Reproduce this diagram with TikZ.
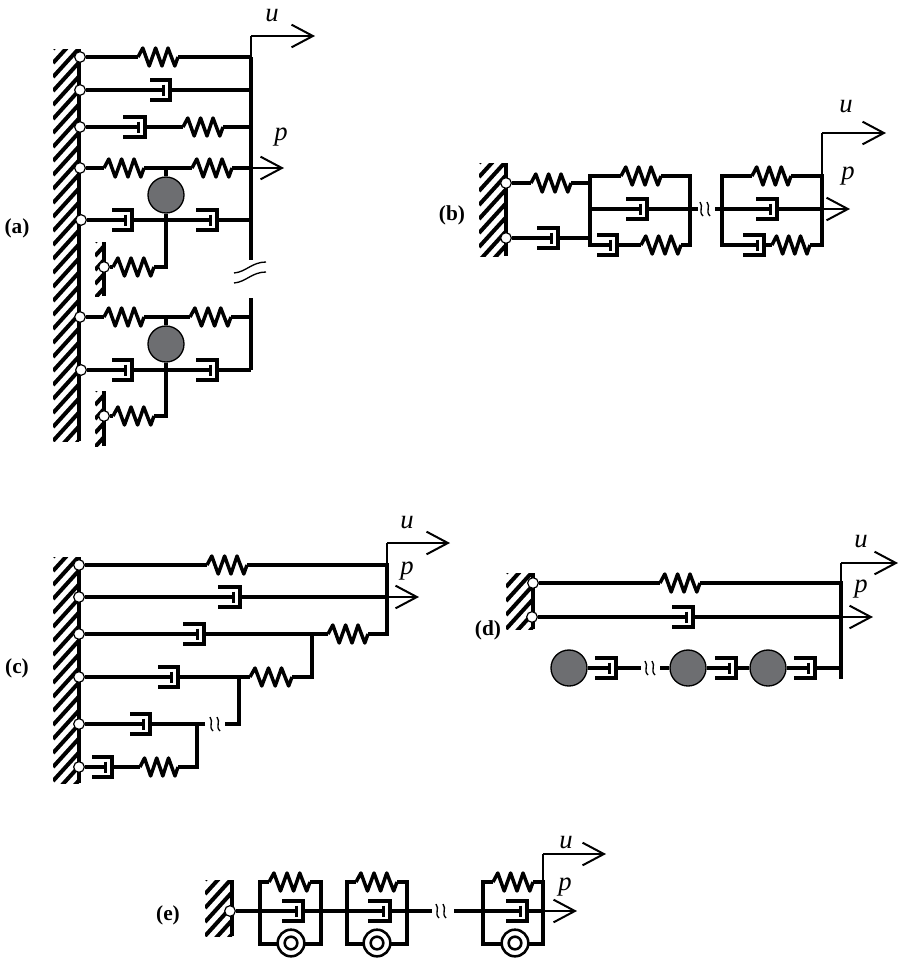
\documentclass[tikz,border=0pt]{standalone}
\usepackage{fontspec}
\setmainfont{Liberation Serif}
\usetikzlibrary{arrows.meta,calc}
\definecolor{massgray}{HTML}{6D6E71}
\tikzset{
  wire/.style={line width=2.3pt,line cap=butt,line join=miter},
  thinwire/.style={line width=1.25pt},
  force/.style={line width=1.25pt,-{Straight Barb[length=16pt,width=17pt,line width=1.5pt]}},
  pivot/.style={circle,draw=black,line width=.9pt,fill=white,inner sep=0pt,minimum size=8pt},
  mass/.style={circle,draw=black,line width=1pt,fill=massgray,inner sep=0pt,minimum size=27pt},
  roller/.style={circle,draw=black,line width=1.9pt,fill=white,inner sep=0pt,minimum size=20pt},
  rollerin/.style={circle,draw=black,line width=1.9pt,fill=white,inner sep=0pt,minimum size=9.5pt},
  sym/.style={font=\fontsize{20}{22}\selectfont\itshape,inner sep=0pt},
  tag/.style={font=\fontsize{16}{18}\selectfont\bfseries,inner sep=0pt},
  breakline/.style={line width=1pt}
}
% spring: name, left x, right x, y
\newcommand{\spr}[4]{%
  \pgfmathsetmacro{\sprw}{#3-#2}%
  \coordinate (#1-l) at (#2,#4);\coordinate (#1-r) at (#3,#4);
  \draw[wire,line width=2.6pt,line join=round] (#2,#4) -- ({#2+.12*\sprw},{#4-9}) -- ({#2+.28*\sprw},{#4+9}) -- ({#2+.44*\sprw},{#4-9})
    -- ({#2+.60*\sprw},{#4+9}) -- ({#2+.75*\sprw},{#4-9}) -- ({#2+.92*\sprw},{#4+9}) -- (#3,#4);
}
% dashpot: name, left x, right x, y
\newcommand{\dpot}[4]{%
  \coordinate (#1-l) at (#2,#4);\coordinate (#1-r) at (#3,#4);
  \draw[wire,line width=2.9pt] (#2,{#4-10}) -- (#3,{#4-10}) -- (#3,{#4+10}) -- (#2,{#4+10});
  \draw[wire] (#2,#4) -- ({#3-6.5},#4);
  \draw[wire] ({#3-6.5},{#4-5.5}) -- ({#3-6.5},{#4+5.5});
}
% wall: x1,x2,y1,y2
\newcommand{\hatchwall}[4]{%
  \begin{scope}
    \clip (#1,#3) rectangle (#2,#4);
    \foreach \hk in {0,...,40}
      \draw[line width=3pt] (#1,{#3+\hk*14}) -- (#2,{#3+\hk*14-(#2-#1)*1.1});
  \end{scope}
  \draw[wire] (#2,#3) -- (#2,#4);
}
% small vertical break: x,y
\newcommand{\vbrk}[2]{%
  \foreach \bo in {0,7}
    \draw[breakline] ({#1+\bo},{#2-7}) .. controls ({#1+\bo+4},{#2-2}) and ({#1+\bo-2},{#2+2}) .. ({#1+\bo+3},{#2+7});
}
\begin{document}
\begin{tikzpicture}[x=.75pt,y=-.75pt]
\useasboundingbox (0,0) rectangle (899,961);

%%% (a)
\hatchwall{53}{79}{49}{441}
\hatchwall{95}{104}{242}{296}
\hatchwall{95}{104}{391}{446}
\node[tag] (la) at (17,228) {(a)};
\coordinate (aRa) at (251,57);\coordinate (aRb) at (251,90);\coordinate (aRc) at (251,127);
\coordinate (aRd) at (251,168);\coordinate (aRe) at (251,220);\coordinate (aRf) at (251,260);
\coordinate (aRg) at (251,298);\coordinate (aRh) at (251,317);\coordinate (aRi) at (251,370);
\coordinate (aT) at (251,36);\coordinate (aUtip) at (315,36);\coordinate (aPtip) at (284,168);
\coordinate (aJu) at (166,168);\coordinate (aJm) at (166,220);\coordinate (aJb) at (166,267);
\coordinate (aKu) at (166,317);\coordinate (aKm) at (166,370);\coordinate (aKb) at (166,416);
\spr{as1}{138}{178}{57}
\dpot{ad2}{150}{170}{90}
\dpot{ad3}{123}{145}{127}
\spr{as3}{183}{223}{127}
\spr{as4}{104}{144}{168}
\spr{as5}{192}{232}{168}
\dpot{ad5}{112}{132}{220}
\dpot{ad6}{196}{217}{220}
\spr{as7}{113}{154}{267}
\spr{as8}{104}{144}{317}
\spr{as9}{190}{231}{317}
\dpot{ad9}{112}{132}{370}
\dpot{ad10}{196}{217}{370}
\spr{as11}{113}{154}{416}
\node[mass] (am1) at (166,195) {};
\node[mass] (am2) at (166,344) {};
\node[pivot] (ap1) at (80,57) {};\node[pivot] (ap2) at (80,90) {};\node[pivot] (ap3) at (80,127) {};
\node[pivot] (ap4) at (80,168) {};\node[pivot] (ap5) at (81,220) {};\node[pivot] (ap6) at (104,267) {};
\node[pivot] (ap7) at (80,317) {};\node[pivot] (ap8) at (81,370) {};\node[pivot] (ap9) at (104,416) {};
\draw[wire] (ap1) -- (as1-l) (as1-r) -- (aRa);
\draw[wire] (ap2) -- (ad2-l) (ad2-r) -- (aRb);
\draw[wire] (ap3) -- (ad3-l) (ad3-r) -- (as3-l) (as3-r) -- (aRc);
\draw[wire] (ap4) -- (as4-l) (as4-r) -- (as5-l) (as5-r) -- (aRd);
\draw[wire] (ap5) -- (ad5-l) (ad5-r) -- (ad6-l) (ad6-r) -- (aRe);
\draw[wire] (ap6) -- (as7-l) (as7-r) -- (aJb) -- (aJm);
\draw[wire] (aJu) -- (am1) (am1) -- (aJm);
\draw[wire] (ap7) -- (as8-l) (as8-r) -- (as9-l) (as9-r) -- (aRh);
\draw[wire] (ap8) -- (ad9-l) (ad9-r) -- (ad10-l) (ad10-r) -- (aRi);
\draw[wire] (ap9) -- (as11-l) (as11-r) -- (aKb) -- (aKm);
\draw[wire] (aKu) -- (am2) (am2) -- (aKm);
\draw[wire] (aRa) -- (aRf) (aRg) -- (aRi);
\draw[thinwire] (aRa) -- (aT);
\draw[force] (aT) -- (aUtip);
\draw[force] (aRd) -- (aPtip);
\node[sym] (au) at (272,16) {u};
\node[sym] (ap) at (281,137) {p};
\draw[breakline] (234,273) .. controls (246,272) and (252,262) .. (266,262);
\draw[breakline] (234,283) .. controls (246,282) and (252,272) .. (266,272);

%%% (b)
\hatchwall{479}{506}{163}{256}
\node[tag] (lb) at (452,215) {(b)};
\coordinate (bAt) at (590,176);\coordinate (bAm) at (590,209);\coordinate (bAb) at (590,245);
\coordinate (bAu) at (590,183);\coordinate (bAd) at (590,238);
\coordinate (bBt) at (690,176);\coordinate (bBm) at (690,209);\coordinate (bBb) at (690,245);
\coordinate (bCm) at (698,209);\coordinate (bDm) at (715,209);
\coordinate (bEt) at (722,176);\coordinate (bEm) at (722,209);\coordinate (bEb) at (722,245);
\coordinate (bFt) at (822,176);\coordinate (bFm) at (822,209);\coordinate (bFb) at (822,245);
\coordinate (bT) at (822,133);\coordinate (bUtip) at (886,133);\coordinate (bPtip) at (850,209);
\spr{bs1}{531}{571}{183}
\dpot{bd1}{537}{558}{238}
\spr{bs2}{621}{661}{176}
\dpot{bd2}{626}{647}{209}
\dpot{bd3}{597}{617}{245}
\spr{bs3}{641}{681}{245}
\spr{bs4}{752}{791}{176}
\dpot{bd4}{756}{777}{209}
\dpot{bd5}{743}{764}{245}
\spr{bs5}{772}{810}{245}
\node[pivot] (bp1) at (506,183) {};\node[pivot] (bp2) at (506,238) {};
\draw[wire] (bp1) -- (bs1-l) (bs1-r) -- (bAu);
\draw[wire] (bp2) -- (bd1-l) (bd1-r) -- (bAd);
\draw[wire] (bs2-l) -- (bAt) -- (bAb) -- (bd3-l) (bd3-r) -- (bs3-l) (bs3-r) -- (bBb) -- (bBt) -- (bs2-r);
\draw[wire] (bAm) -- (bd2-l) (bd2-r) -- (bCm);
\draw[wire] (bs4-l) -- (bEt) -- (bEb) -- (bd5-l) (bd5-r) -- (bs5-l) (bs5-r) -- (bFb) -- (bFt) -- (bs4-r);
\draw[wire] (bDm) -- (bd4-l) (bd4-r) -- (bFm);
\vbrk{700}{209}
\draw[thinwire] (bFt) -- (bT);
\draw[force] (bT) -- (bUtip);
\draw[force] (bFm) -- (bPtip);
\node[sym] (bu) at (846,107) {u};
\node[sym] (bpl) at (848,176) {p};

%%% (c)
\hatchwall{53}{79}{557}{783}
\node[tag] (lc) at (17,668) {(c)};
\coordinate (cRa) at (387,565);\coordinate (cRb) at (387,597);\coordinate (cRc) at (387,634);
\coordinate (cT) at (387,543);\coordinate (cUtip) at (450,543);\coordinate (cPtip) at (419,597);
\coordinate (cJa) at (312,634);\coordinate (cJb) at (312,677);
\coordinate (cKa) at (239,677);\coordinate (cKb) at (239,724);
\coordinate (cLa) at (197,724);\coordinate (cLb) at (197,767);
\coordinate (cBa) at (205,724);\coordinate (cBb) at (225,724);
\spr{cs1}{207}{247}{565}
\dpot{cd2}{218}{240}{597}
\dpot{cd3}{183}{204}{634}
\spr{cs3}{328}{368}{634}
\dpot{cd4}{158}{178}{677}
\spr{cs4}{250}{292}{677}
\dpot{cd5}{130}{150}{724}
\dpot{cd6}{92}{112}{767}
\spr{cs6}{140}{178}{767}
\node[pivot] (cp1) at (79,565) {};\node[pivot] (cp2) at (79,597) {};\node[pivot] (cp3) at (79,634) {};
\node[pivot] (cp4) at (79,677) {};\node[pivot] (cp5) at (79,724) {};\node[pivot] (cp6) at (79,767) {};
\draw[wire] (cp1) -- (cs1-l) (cs1-r) -- (cRa) -- (cRc) -- (cs3-r) (cs3-l) -- (cd3-r) (cd3-l) -- (cp3);
\draw[wire] (cp2) -- (cd2-l) (cd2-r) -- (cRb);
\draw[wire] (cJa) -- (cJb) -- (cs4-r) (cs4-l) -- (cd4-r) (cd4-l) -- (cp4);
\draw[wire] (cKa) -- (cKb) -- (cBb) (cBa) -- (cd5-r) (cd5-l) -- (cp5);
\draw[wire] (cLa) -- (cLb) -- (cs6-r) (cs6-l) -- (cd6-r) (cd6-l) -- (cp6);
\vbrk{210}{724}
\draw[thinwire] (cRa) -- (cT);
\draw[force] (cT) -- (cUtip);
\draw[force] (cRb) -- (cPtip);
\node[sym] (cu) at (407,523) {u};
\node[sym] (cpl) at (407,571) {p};

%%% (d)
\hatchwall{506}{533}{573}{629}
\node[tag] (ld) at (488,630) {(d)};
\coordinate (dRa) at (841,583);\coordinate (dRb) at (841,617);\coordinate (dRc) at (841,668);\coordinate (dRd) at (841,679);
\coordinate (dT) at (841,563);\coordinate (dUtip) at (898,563);\coordinate (dPtip) at (873,617);
\coordinate (dBa) at (641,668);\coordinate (dBb) at (660,668);
\spr{ds1}{660}{700}{583}
\dpot{dd2}{672}{693}{617}
\dpot{dd3}{595}{616}{668}
\dpot{dd4}{715}{736}{668}
\dpot{dd5}{794}{815}{668}
\node[mass] (dm1) at (569,668) {};\node[mass] (dm2) at (688,668) {};\node[mass] (dm3) at (768,668) {};
\node[pivot] (dp1) at (533,583) {};\node[pivot] (dp2) at (532,617) {};
\draw[wire] (dp1) -- (ds1-l) (ds1-r) -- (dRa) -- (dRd);
\draw[wire] (dp2) -- (dd2-l) (dd2-r) -- (dRb);
\draw[wire] (dm1) -- (dd3-l) (dd3-r) -- (dBa) (dBb) -- (dm2) (dm2) -- (dd4-l) (dd4-r) -- (dm3) (dm3) -- (dd5-l) (dd5-r) -- (dRc);
\vbrk{645}{668}
\draw[thinwire] (dRa) -- (dT);
\draw[force] (dT) -- (dUtip);
\draw[force] (dRb) -- (dPtip);
\node[sym] (du) at (861,542) {u};
\node[sym] (dpl) at (861,589) {p};

%%% (e)
\hatchwall{205}{232}{880}{936}
\node[tag] (le) at (168,915) {(e)};
\coordinate (eBa) at (432,911);\coordinate (eBb) at (454,911);
\coordinate (eT) at (543,854);\coordinate (eUtip) at (606,854);\coordinate (ePtip) at (577,911);
\coordinate (e1a) at (260,882);\coordinate (e1b) at (321,882);\coordinate (e1c) at (321,944);\coordinate (e1d) at (260,944);
\coordinate (e2a) at (347,882);\coordinate (e2b) at (407,882);\coordinate (e2c) at (407,944);\coordinate (e2d) at (347,944);
\coordinate (e3a) at (483,882);\coordinate (e3b) at (543,882);\coordinate (e3c) at (543,944);\coordinate (e3d) at (483,944);
\coordinate (e3m) at (543,911);
\spr{es1}{269}{310}{882}
\spr{es2}{356}{397}{882}
\spr{es3}{493}{533}{882}
\dpot{ed1}{282}{303}{911}
\dpot{ed2}{368}{390}{911}
\dpot{ed3}{506}{527}{911}
\node[pivot] (ep) at (230,911) {};
\draw[wire] (es1-l) -- (e1a) -- (e1d) -- (e1c) -- (e1b) -- (es1-r);
\draw[wire] (es2-l) -- (e2a) -- (e2d) -- (e2c) -- (e2b) -- (es2-r);
\draw[wire] (es3-l) -- (e3a) -- (e3d) -- (e3c) -- (e3b) -- (es3-r);
\draw[wire] (ep) -- (ed1-l) (ed1-r) -- (ed2-l) (ed2-r) -- (eBa);
\draw[wire] (eBb) -- (ed3-l) (ed3-r) -- (e3m);
\vbrk{436}{911}
\foreach \rn/\rx in {1/291,2/377,3/515}{
  \node[roller] (er\rn) at (\rx,943) {};
  \node[rollerin] (eq\rn) at (\rx,943) {};
}
\draw[thinwire] (e3b) -- (eT);
\draw[force] (eT) -- (eUtip);
\draw[force] (e3m) -- (ePtip);
\node[sym] (eu) at (566,843) {u};
\node[sym] (epl) at (565,887) {p};
\end{tikzpicture}
\end{document}
